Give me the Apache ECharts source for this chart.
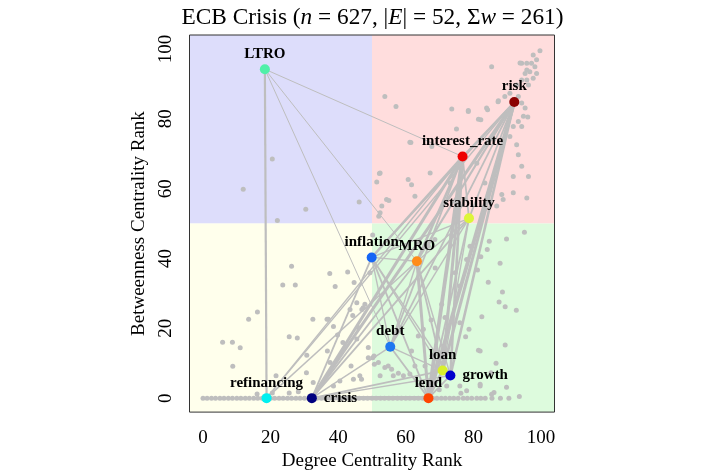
<!DOCTYPE html>
<html lang="en">
<head>
<meta charset="UTF-8">
<title>ECB Crisis</title>
<script src="https://cdn.jsdelivr.net/npm/echarts@6/dist/echarts.min.js"></script>
<style>
  html, body { margin: 0; padding: 0; background: #fff; }
  #main { width: 714px; height: 476px; }
</style>
</head>
<body>
<div id="main"></div>
<script>
// labelled terms: degree rank (x), betweenness rank (y)
var nodeNames  = ['LTRO', 'risk', 'interest_rate', 'stability', 'inflation', 'MRO', 'debt', 'loan', 'growth', 'lend', 'crisis', 'refinancing'];
var nodeX      = [18.3, 92.1, 76.8, 78.7, 49.9, 63.3, 55.4, 70.9, 73.2, 66.7, 32.2, 18.8];
var nodeY      = [94.2, 84.8, 69.2, 51.5, 40.3, 39.2, 14.7, 7.9, 6.5, 0, 0, 0];
var nodeColors = ['#50F0A8', '#8B0000', '#EE0000', '#DDF53A', '#1565F5', '#FF8C1A', '#1E78F0', '#D8F02C', '#0000CD', '#FF4500', '#00007F', '#00F0F0'];
var labelSide  = ['top', 'top', 'top', 'top', 'top', 'top', 'top', 'top', 'right', 'top', 'right', 'top'];

// co-occurrence edges between labelled terms: [from, to, weight]
var edges = [
  ['LTRO', 'refinancing', 4], ['LTRO', 'interest_rate', 1], ['LTRO', 'MRO', 1], ['LTRO', 'debt', 1],
  ['risk', 'interest_rate', 3], ['risk', 'stability', 3], ['risk', 'lend', 8], ['risk', 'loan', 6],
  ['risk', 'growth', 5], ['risk', 'crisis', 6], ['risk', 'MRO', 4], ['risk', 'inflation', 3],
  ['risk', 'debt', 3], ['risk', 'refinancing', 2],
  ['interest_rate', 'stability', 3], ['interest_rate', 'lend', 8], ['interest_rate', 'loan', 6],
  ['interest_rate', 'growth', 5], ['interest_rate', 'crisis', 6], ['interest_rate', 'MRO', 5],
  ['interest_rate', 'inflation', 4], ['interest_rate', 'debt', 3], ['interest_rate', 'refinancing', 2],
  ['stability', 'lend', 3], ['stability', 'loan', 2], ['stability', 'crisis', 3], ['stability', 'MRO', 2],
  ['stability', 'inflation', 2], ['stability', 'debt', 2],
  ['inflation', 'MRO', 2], ['inflation', 'debt', 2], ['inflation', 'lend', 3], ['inflation', 'crisis', 3],
  ['inflation', 'growth', 2], ['inflation', 'loan', 2],
  ['MRO', 'lend', 6], ['MRO', 'loan', 3], ['MRO', 'crisis', 3], ['MRO', 'debt', 2], ['MRO', 'growth', 2],
  ['MRO', 'refinancing', 2],
  ['debt', 'lend', 3], ['debt', 'crisis', 2], ['debt', 'loan', 2],
  ['loan', 'lend', 5], ['loan', 'growth', 3], ['loan', 'crisis', 3],
  ['growth', 'lend', 3], ['growth', 'crisis', 2],
  ['lend', 'crisis', 8], ['lend', 'refinancing', 3],
  ['crisis', 'refinancing', 6]
];

// all other terms [degree rank, betweenness rank]
var otherPoints = [
  [20.5, 68.5], [11.9, 59.8], [30.4, 54.1], [22, 50.9], [46.2, 56.2],
  [51.4, 61.9], [52.2, 64.3], [52, 52.1], [99.7, 99.5], [97.7, 98.3], [98.7, 96.9], [97.2, 95.9],
  [98.2, 94.9], [95.8, 95.9], [94.3, 95.9], [96.7, 93.5], [95.3, 93], [98.7, 93], [97.7, 91.6],
  [95.8, 91.1], [94.3, 91.1], [92.8, 89.7], [96.3, 89.7], [90.8, 87.3], [89.3, 86.4], [87.4, 85.2],
  [93.3, 86.4], [94.3, 84.5], [95.3, 83.1], [94.8, 80.7], [93.3, 79.2], [91.8, 77.8], [94.3, 77.8],
  [90.8, 74.9], [92.8, 72.6], [93.3, 69.7], [94.3, 66.4], [91.8, 63.5], [96.3, 63.5], [95.8, 57.3],
  [91.8, 58.8], [88.8, 56.9], [86.9, 55], [53.8, 86.4], [57.1, 83.5], [73.6, 82.8], [78.5, 82.1],
  [83.9, 83.1], [81.5, 79.9], [75, 77.1], [61.5, 73.2], [67.7, 72.1], [52.4, 64.5], [60.7, 62.6],
  [67.2, 64.5], [61.7, 61.1], [73.1, 61.6], [83.4, 61.6], [81, 67.3], [54.3, 56.9], [62.7, 57.8],
  [52.4, 53.1], [88.4, 58.3], [55, 56.6], [52.9, 55], [61.2, 73.3], [93.8, 96], [95.8, 94],
  [85.4, 94.9], [87.3, 84.9], [96.1, 80.5], [84.2, 82.6], [82.2, 79.7], [78.5, 82.4],
  [26.2, 37.8], [23.6, 32.4], [27.3, 32.4], [37.5, 35.7], [42.8, 36.1], [39.1, 32], [44.7, 33.1],
  [16.1, 24.7], [13.5, 22.6], [32.5, 22.6], [36.7, 22.6], [38.6, 20.5], [25.5, 17.6], [27.9, 17.2],
  [5.8, 16], [8.7, 16], [11, 14.4], [8.8, 9.1], [30.7, 12.3], [30.6, 7.3], [36.8, 13.5], [39.8, 18.1],
  [41.4, 15.9], [45.5, 16.9], [44.3, 23.7], [47.4, 25.9], [45.9, 20.2], [37.6, 10.2], [43.8, 9.2],
  [46.9, 5.4], [21.6, 6.4], [32.6, 4.5], [28.2, 1.8], [25.5, 1.5], [20.5, 1.5], [16, 1.2],
  [50.2, 11.6], [50.7, 9.7], [50.2, 46.7], [49.4, 35.9], [47.9, 26.9], [45.5, 27.3], [37.1, 22.6],
  [43.5, 25.4], [47, 25.4], [48.9, 14.5], [48.9, 11.6], [46.4, 6.4], [44.5, 5.4], [40.5, 4.9], [38.6, 3.5],
  [95.1, 47.5], [89.8, 45.6], [84.7, 44.9], [84.1, 42.6], [82.2, 40.5], [81.2, 36.7], [84.4, 33.2],
  [87.9, 38.6], [88.6, 30.4], [87.6, 27.5], [89.4, 26.2], [92.7, 25.2], [82.5, 23.3], [78.7, 19.7],
  [77.7, 17.6], [76, 21.6], [89.4, 15.2], [81.5, 13.7], [86.7, 10], [85.2, 7.3], [82, 4], [89.8, 3.1],
  [93.6, 0.5], [86.1, 1.6], [76.3, 1.4], [69.9, 2.4], [72.1, 3.5], [67.5, 22.4], [50.6, 12.1],
  [56.3, 6.4], [59.3, 6.4], [62.7, 9.2], [52.4, 6.4], [54.8, 9.2], [74.6, 35.9], [76, 32.1],
  [68.7, 37.3], [66.7, 43.5], [68.6, 45.4], [73.6, 46.4], [78, 39.7], [79, 43.5], [70.6, 26.9],
  [71.6, 23.1], [67.7, 12.1], [65.7, 9.2], [61.7, 13.5], [63.7, 17.8], [65.2, 19.7], [51.9, 10.2],
  [53.8, 8.8], [55.8, 8.3], [57.8, 7.1], [61.2, 6.9], [82, 13.5], [76, 3.5], [78, 2.1], [82, 3.5], [85.4, 1.1]
];

// terms tied at betweenness rank 0
var zeroBandX = [0, 1.2, 2.5, 3.7, 5, 6.2, 7.5, 8.7, 10, 11.2, 12.5, 13.7, 15, 16.2, 17.5, 20, 21.2, 22.5,
  23.7, 25, 26.2, 27.5, 28.7, 30, 31.2, 33.7, 35, 36.2, 37.5, 38.7, 40, 41.2, 42.5, 43.7, 45, 46.2, 47.5,
  48.7, 50, 51.2, 52.5, 53.7, 55, 56.2, 57.5, 58.7, 60, 61.2, 62.5, 63.7, 65, 68, 69.2, 70.5, 71.7, 73,
  74.2, 75.5, 77, 78.2, 79.5, 81, 82.2, 83.5, 85.5, 88, 90.5];

var ticks = [0, 20, 40, 60, 80, 100];

var serif = 'Liberation Serif';

function nodeIndex(name) { return nodeNames.indexOf(name); }

var edgeData = edges.map(function (e) {
  var a = nodeIndex(e[0]), b = nodeIndex(e[1]);
  return {
    coords: [[nodeX[a], nodeY[a]], [nodeX[b], nodeY[b]]],
    lineStyle: { width: 0.6 + 0.4 * e[2] }
  };
});

var grayData = otherPoints.concat(zeroBandX.map(function (x) { return [x, 0]; }));

var nodeData = nodeNames.map(function (n, i) {
  return {
    name: n,
    value: [nodeX[i], nodeY[i]],
    itemStyle: { color: nodeColors[i], opacity: 1 },
    label: { position: labelSide[i], distance: labelSide[i] === 'right' ? 7 : 3 }
  };
});

var myChart = echarts.init(document.getElementById('main'));

var option = {
  animation: false,
  title: {
    left: 181.5,
    top: 6,
    padding: 0,
    text: '{r|ECB Crisis (}{i|n}{r| = 627, |}{i|E}{r|| = 52, \u03A3}{i|w}{r| = 261)}',
    textStyle: {
      fontWeight: 'normal',
      rich: {
        r: { fontFamily: serif, fontSize: 23.3, fontWeight: 'normal', color: '#000' },
        i: { fontFamily: serif, fontSize: 23.3, fontWeight: 'normal', color: '#000', fontStyle: 'italic' }
      }
    }
  },
  grid: {
    show: true, z: 10,
    left: 189.5, right: 159.5, top: 35, bottom: 63,
    borderColor: '#333', borderWidth: 1, backgroundColor: 'transparent'
  },
  xAxis: {
    type: 'value', min: -4, max: 104,
    name: 'Degree Centrality Rank', nameLocation: 'middle', nameGap: 37,
    nameTextStyle: { fontFamily: serif, fontSize: 19, color: '#000' },
    axisLine: { show: false },
    splitLine: { show: false },
    axisTick: { show: true, customValues: ticks, length: 10, lineStyle: { color: '#666' } },
    axisLabel: { customValues: ticks, fontFamily: serif, fontSize: 19, color: '#000', margin: 16 }
  },
  yAxis: {
    type: 'value', min: -4, max: 104,
    name: 'Betweenness Centrality Rank', nameLocation: 'middle', nameGap: 36,
    nameTextStyle: { fontFamily: serif, fontSize: 19, color: '#000' },
    axisLine: { show: false },
    splitLine: { show: false },
    axisTick: { show: true, customValues: ticks, length: 10, lineStyle: { color: '#666' } },
    axisLabel: { customValues: ticks, rotate: 90, fontFamily: serif, fontSize: 19, color: '#000', margin: 14 }
  },
  series: [
    {
      // quadrant backgrounds
      type: 'scatter', data: [], z: 0, silent: true,
      markArea: {
        silent: true,
        data: [
          [{ coord: [-4, 50], itemStyle: { color: '#DDDDFB' } }, { coord: [50, 104] }],
          [{ coord: [50, 50], itemStyle: { color: '#FFDDDD' } }, { coord: [104, 104] }],
          [{ coord: [-4, -4], itemStyle: { color: '#FFFFEC' } }, { coord: [50, 50] }],
          [{ coord: [50, -4], itemStyle: { color: '#DDFBDD' } }, { coord: [104, 50] }]
        ]
      }
    },
    {
      type: 'scatter', z: 2, silent: true,
      symbolSize: 5,
      itemStyle: { color: '#BEBEBE', opacity: 1 },
      data: grayData
    },
    {
      type: 'lines', coordinateSystem: 'cartesian2d', z: 3, silent: true,
      lineStyle: { color: '#BEBEBE', opacity: 1 },
      data: edgeData
    },
    {
      type: 'scatter', z: 4, silent: true,
      symbolSize: 10,
      label: {
        show: true, formatter: '{b}',
        fontFamily: serif, fontSize: 15, fontWeight: 'bold', color: '#000'
      },
      data: nodeData
    }
  ]
};

myChart.setOption(option);
</script>
</body>
</html>
